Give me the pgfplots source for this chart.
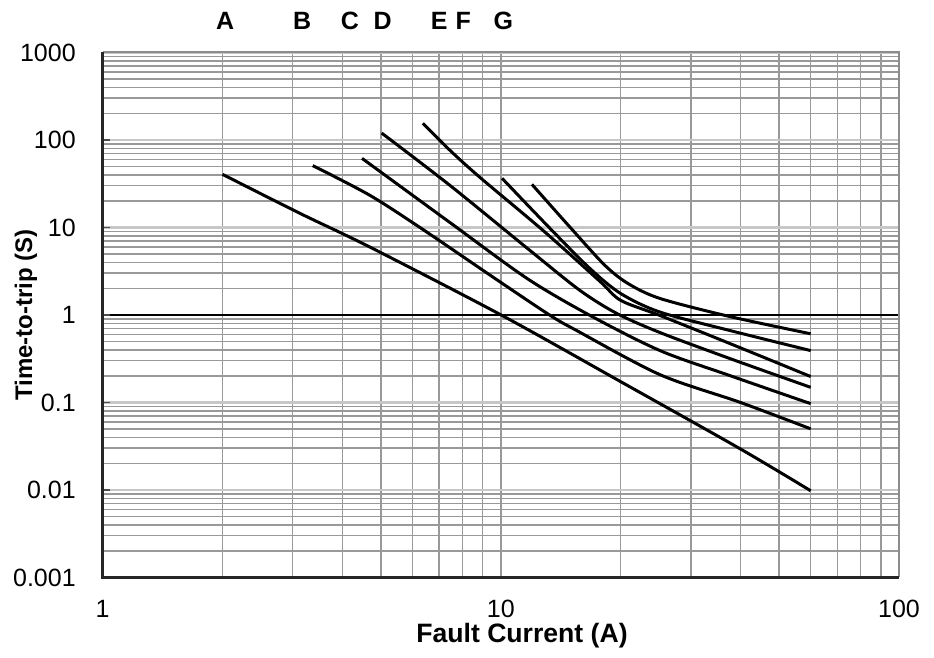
\documentclass[border=0pt]{standalone}
\usepackage{fontspec}
\setmainfont{Liberation Sans}
\usepackage{pgfplots}
\pgfplotsset{compat=1.18}
\begin{document}
\begin{tikzpicture}
\path[use as bounding box] (-51.35pt,-40.25pt) rectangle (415.65pt,288.75pt);
\begin{axis}[
  at={(0pt,0pt)}, anchor=south west,
  scale only axis, width=398.15pt, height=262.5pt,
  xmode=log, ymode=log,
  xmin=1, xmax=100, ymin=0.001, ymax=1000,
  clip=false,
  xtick={1,10,100}, xticklabels={1,10,100},
  ytick={0.001,0.01,0.1,1,10,100,1000},
  yticklabels={0.001,0.01,0.1,1,10,100,1000},
  minor xtick={2,3,4,5,6,7,8,9,10,20,30,40,50,60,70,80,90},
  minor ytick={0.002,0.003,0.004,0.005,0.006,0.007,0.008,0.009,
               0.02,0.03,0.04,0.05,0.06,0.07,0.08,0.09,
               0.2,0.3,0.4,0.5,0.6,0.7,0.8,0.9,
               2,3,4,5,6,7,8,9,
               20,30,40,50,60,70,80,90,
               200,300,400,500,600,700,800,900},
  xmajorgrids=false, xminorgrids=true,
  ymajorgrids=true, yminorgrids=true,
  major grid style={black!22, line width=1.4pt},
  minor grid style={black!40, line width=0.75pt},
  extra y ticks={1}, extra y tick labels={},
  extra y tick style={grid=major, major grid style={black, line width=1.2pt}},
  tick align=inside,
  ytick pos=left, xtick pos=bottom,
  major tick length=3.5pt, minor tick length=0pt,
  xtick style={draw=none},
  ytick style={black!70, line width=0.6pt},
  axis line style={draw=none},
  xticklabel style={font=\fontsize{12.5}{15}\selectfont, anchor=center, inner sep=0pt, yshift=-15.75pt},
  yticklabel style={font=\fontsize{12.5}{15}\selectfont, anchor=east, inner sep=0pt, xshift=-13.3pt},
  xlabel={Fault Current (A)},
  xlabel style={at={(axis description cs:0.5266,-0.1114)}, anchor=center, font=\bfseries\fontsize{13.3}{16}\selectfont},
  ylabel={Time-to-trip (S)},
  ylabel style={at={(axis description cs:-0.0963,0.5)}, anchor=center, font=\bfseries\fontsize{12}{15}\selectfont},
  cycle list={black},
  every axis plot/.append style={line width=1.5pt, smooth, mark=none},
]
% A
\addplot coordinates {(2.0,40.5) (3.13,14.5) (4.68,6.0) (10.06,0.99) (20,0.173) (39.85,0.0297) (60,0.0098)};
% B
\addplot coordinates {(3.37,51) (4.69,23.3) (6.37,9.5) (9.66,2.62) (13.3,0.99) (15.5,0.665) (25.1,0.208) (40,0.1) (60,0.050)};
% C
\addplot coordinates {(4.48,61.7) (7.45,11.4) (11.63,2.62) (16.74,0.99) (25.1,0.392) (37.6,0.203) (60,0.097)};
% D
\addplot coordinates {(5.02,120) (7.45,30.3) (11.83,5.47) (15.8,1.91) (19.57,1.04) (25.1,0.63) (37.6,0.318) (60,0.149)};
% E
\addplot coordinates {(6.37,155) (7.45,76.3) (8.86,37.4) (12.76,9.26) (17.74,2.42) (20,1.47) (25.1,0.987) (37.6,0.472) (60,0.198)};
% F
\addplot coordinates {(10.07,36.5) (13.44,9.26) (16.74,3.4) (20,1.76) (25.1,1.08) (37.6,0.665) (60,0.392)};
% G
\addplot coordinates {(11.97,31.1) (15.17,9.26) (18.26,3.69) (20.86,2.29) (25.1,1.545) (37.6,0.96) (60,0.61)};
% frame
\draw[black!45, line width=1pt] (rel axis cs:0,1) -- (rel axis cs:1,1) -- (rel axis cs:1,0);
\draw[black!85, line width=1.2pt] (rel axis cs:0,1) -- (rel axis cs:0,0) -- (rel axis cs:1,0);
% curve letters
\node[font=\bfseries\fontsize{12.5}{15}\selectfont, anchor=center, yshift=15.9pt] at (axis cs:2.03,1000) {A};
\node[font=\bfseries\fontsize{12.5}{15}\selectfont, anchor=center, yshift=15.9pt] at (axis cs:3.17,1000) {B};
\node[font=\bfseries\fontsize{12.5}{15}\selectfont, anchor=center, yshift=15.9pt] at (axis cs:4.18,1000) {C};
\node[font=\bfseries\fontsize{12.5}{15}\selectfont, anchor=center, yshift=15.9pt] at (axis cs:5.05,1000) {D};
\node[font=\bfseries\fontsize{12.5}{15}\selectfont, anchor=center, yshift=15.9pt] at (axis cs:7.0,1000) {E};
\node[font=\bfseries\fontsize{12.5}{15}\selectfont, anchor=center, yshift=15.9pt] at (axis cs:8.05,1000) {F};
\node[font=\bfseries\fontsize{12.5}{15}\selectfont, anchor=center, yshift=15.9pt] at (axis cs:10.15,1000) {G};
\end{axis}
\end{tikzpicture}
\end{document}
